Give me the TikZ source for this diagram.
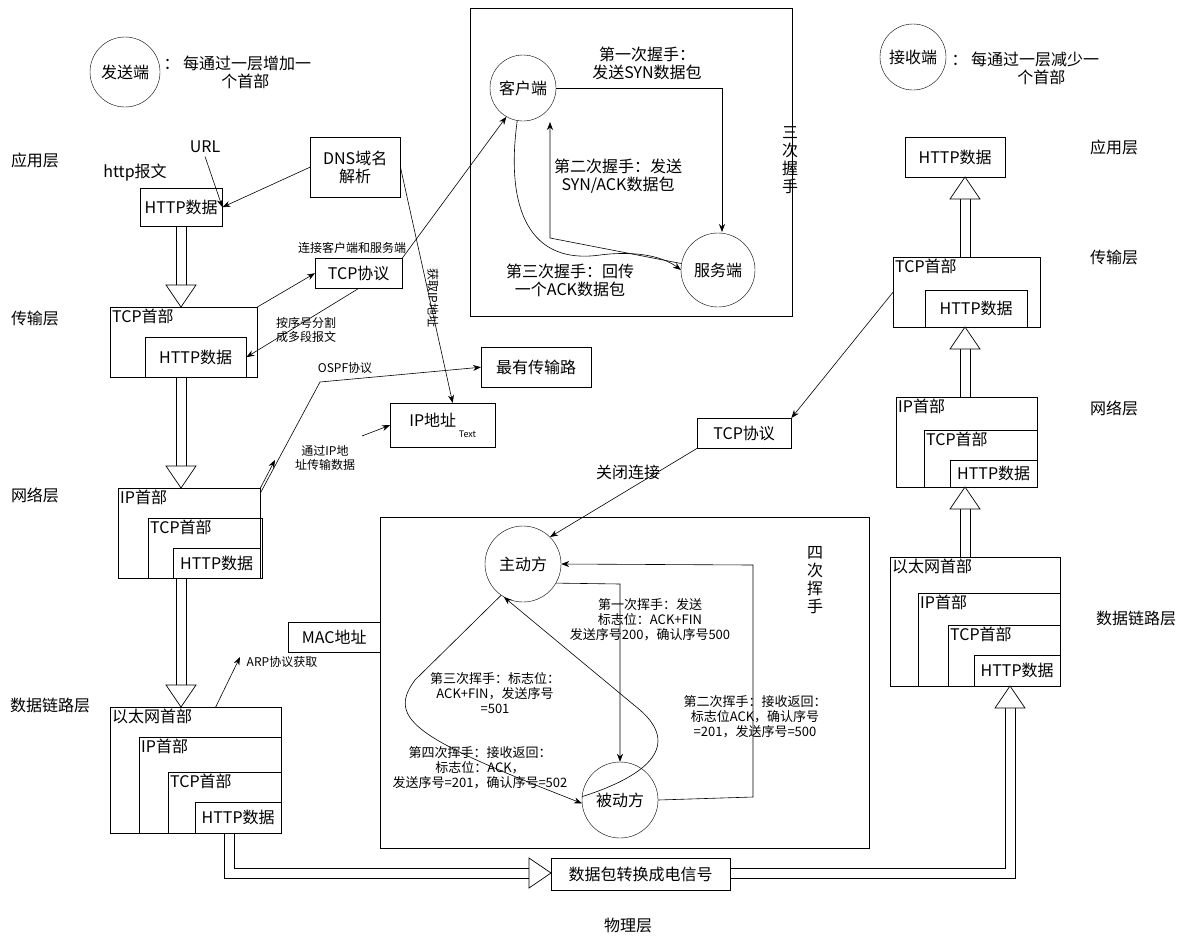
\documentclass[tikz,border=0pt]{standalone}
\usepackage{fontspec}
\setmainfont{Noto Sans CJK SC}
\usetikzlibrary{arrows.meta,positioning,calc}

\tikzset{
  box/.style={draw,rectangle,inner sep=2pt,font=\fontsize{16}{18}\selectfont},
  ring/.style={draw,circle,font=\fontsize{16}{18}\selectfont},
  txt/.style={font=\fontsize{16}{18}\selectfont,align=center},
  sml/.style={font=\fontsize{12}{14}\selectfont,align=center},
  wsml/.style={font=\fontsize{13}{15}\selectfont,align=center},
  arr/.style={-{Stealth[length=8pt,width=6pt]},line width=0.6pt},
  hl/.style={line width=0.7pt},
}
\newcommand\vhol[3]{\draw[hl] (#1-5,#2) -- (#1-5,#3) (#1+5,#2) -- (#1+5,#3);}
\newcommand\headdown[1]{\draw[fill=white,line width=0.7pt] ($(#1)+(-15,-22)$) -- (#1) -- ($(#1)+(15,-22)$) -- cycle;}
\newcommand\headup[1]{\draw[fill=white,line width=0.7pt] ($(#1)+(-15,22)$) -- (#1) -- ($(#1)+(15,22)$) -- cycle;}
\newcommand\headright[1]{\draw[fill=white,line width=0.7pt] ($(#1)+(-22,-15)$) -- (#1) -- ($(#1)+(-22,15)$) -- cycle;}

\begin{document}
\begin{tikzpicture}[x=1pt,y=-1pt]
\useasboundingbox (0,0) rectangle (1192,938);

% legend
\node[ring,minimum size=70] (snd) at (125,72) {发送端};
\node[txt,anchor=west] at (160,72) {：\ 每通过一层增加一\\\hspace{1em}个首部};
\node[ring,minimum size=66] (rcv) at (913,57) {接收端};
\node[txt,anchor=west] at (948,68) {：\ 每通过一层减少一\\\hspace{2em}个首部};

% layer names
\node[txt] at (35,160) {应用层};
\node[txt] at (35,318) {传输层};
\node[txt] at (35,495) {网络层};
\node[txt] at (50,705) {数据链路层};
\node[txt] at (1114,147) {应用层};
\node[txt] at (1114,257) {传输层};
\node[txt] at (1114,408) {网络层};
\node[txt] at (1136,618) {数据链路层};
\node[txt] at (628,925) {物理层};

% sender stack
\node[txt] (url) at (205,147) {URL};
\node[txt] at (135,173) {http报文};
\node[box,anchor=north west,minimum width=82,minimum height=38] (app) at (140,188) {HTTP数据};
\node[box,anchor=north west,minimum width=90,minimum height=60,align=center] (dns) at (310,137) {DNS域名\\解析};
\node[box,anchor=north west,minimum width=87,minimum height=30] (tcpl) at (315,258) {TCP协议};
\node[sml] at (352,248) {连接客户端和服务端};
\node[box,anchor=north west,minimum width=147,minimum height=70] (tr) at (110,307) {};
\node[txt,anchor=north west,inner sep=2pt] at (tr.north west) {TCP首部};
\node[box,anchor=north west,minimum width=101,minimum height=40] (trh) at (145,337) {HTTP数据};
\node[sml] at (306,330) {按序号分割\\成多段报文};
\node[box,anchor=north west,minimum width=110,minimum height=40] (best) at (481,347) {最有传输路};
\node[box,anchor=north west,minimum width=105,minimum height=44] (ip) at (390,403) {IP地址\,\raisebox{-1.2ex}{\fontsize{9}{10}\selectfont Text}};
\node[sml] at (325,458) {通过IP地\\址传输数据};
\node[sml] at (345,368) {OSPF协议};

\node[box,anchor=north west,minimum width=142,minimum height=90] (nw) at (118,488) {};
\node[txt,anchor=north west,inner sep=2pt] at (nw.north west) {IP首部};
\node[box,anchor=north west,minimum width=114,minimum height=60] (nwt) at (148,518) {};
\node[txt,anchor=north west,inner sep=2pt] at (nwt.north west) {TCP首部};
\node[box,anchor=north west,minimum width=87,minimum height=30] (nwh) at (173,548) {HTTP数据};

\node[box,anchor=north west,minimum width=92,minimum height=30] (mac) at (288,622) {MAC地址};
\node[sml] at (282,662) {ARP协议获取};

\node[box,anchor=north west,minimum width=171,minimum height=126] (dl) at (110,707) {};
\node[txt,anchor=north west,inner sep=2pt] at (dl.north west) {以太网首部};
\node[box,anchor=north west,minimum width=142,minimum height=96] (dli) at (139,737) {};
\node[txt,anchor=north west,inner sep=2pt] at (dli.north west) {IP首部};
\node[box,anchor=north west,minimum width=113,minimum height=61] (dlt) at (168,772) {};
\node[txt,anchor=north west,inner sep=2pt] at (dlt.north west) {TCP首部};
\node[box,anchor=north west,minimum width=86,minimum height=31] (dlh) at (195,802) {HTTP数据};

\node[box,anchor=north west,minimum width=179,minimum height=32] (phy) at (551,858) {数据包转换成电信号};

% three-way handshake
\node[draw,anchor=north west,minimum width=322,minimum height=308] (hs) at (470,8) {};
\node[ring,minimum size=66] (cli) at (523,88) {客户端};
\node[ring,minimum size=74] (srv) at (718,270) {服务端};
\node[txt] at (790,160) {三\\次\\握\\手};
\node[txt] at (647,63) {第一次握手：\\发送SYN数据包};
\node[txt,fill=white,inner sep=1pt] (l2) at (618,176) {第二次握手：发送\\SYN/ACK数据包};
\node[txt] at (570,280) {第三次握手：回传\\一个ACK数据包};
\draw[arr] (cli.east) -- (722,88) -- (722,232);
\draw[arr] (srv.170) -- (550,238) -- (550,122);
\draw[arr] (cli.260) .. controls (505,210) and (530,265) .. (600,255) .. controls (640,250) and (665,258) .. (681,270);

% receiver stack
\node[box,anchor=north west,minimum width=100,minimum height=40] (rapp) at (905,137) {HTTP数据};
\node[box,anchor=north west,minimum width=147,minimum height=70] (rtr) at (893,257) {};
\node[txt,anchor=north west,inner sep=2pt] at (rtr.north west) {TCP首部};
\node[box,anchor=north west,minimum width=102,minimum height=37] (rtrh) at (925,290) {HTTP数据};
\node[box,anchor=north west,minimum width=141,minimum height=90] (rnw) at (896,397) {};
\node[txt,anchor=north west,inner sep=2pt] at (rnw.north west) {IP首部};
\node[box,anchor=north west,minimum width=113,minimum height=57] (rnwt) at (924,430) {};
\node[txt,anchor=north west,inner sep=2pt] at (rnwt.north west) {TCP首部};
\node[box,anchor=north west,minimum width=87,minimum height=27] (rnwh) at (950,460) {HTTP数据};
\node[box,anchor=north west,minimum width=170,minimum height=129] (rdl) at (890,557) {};
\node[txt,anchor=north west,inner sep=2pt] at (rdl.north west) {以太网首部};
\node[box,anchor=north west,minimum width=142,minimum height=93] (rdli) at (918,593) {};
\node[txt,anchor=north west,inner sep=2pt] at (rdli.north west) {IP首部};
\node[box,anchor=north west,minimum width=112,minimum height=61] (rdlt) at (948,625) {};
\node[txt,anchor=north west,inner sep=2pt] at (rdlt.north west) {TCP首部};
\node[box,anchor=north west,minimum width=86,minimum height=31] (rdlh) at (974,655) {HTTP数据};

\node[box,anchor=north west,minimum width=94,minimum height=30] (tcpr) at (697,418) {TCP协议};
\node[txt] at (628,472) {关闭连接};

% four-way wave
\node[draw,anchor=north west,minimum width=489,minimum height=331] (wv) at (380,517) {};
\node[ring,minimum size=76] (act) at (523,564) {主动方};
\node[ring,minimum size=76] (pas) at (620,800) {被动方};
\node[txt] at (815,580) {四\\次\\挥\\手};
\draw[arr] (act.-30) -- (620,584) -- (pas.north);
\draw[arr] (pas.east) -- (753,797) -- (753,565) -- (act.east);
\draw[arr] (pas.175) .. controls (650,775) and (680,745) .. (640,710) -- (act.-120);
\draw[arr] (act.-125) -- (415,680) .. controls (385,720) and (420,740) .. (pas.185);
\node[wsml] at (650,620) {第一次挥手：发送\\标志位：ACK+FIN\\发送序号200，确认序号500};
\node[wsml] at (755,717) {第二次挥手：接收返回：\\标志位ACK，确认序号\\=201，发送序号=500};
\node[wsml] at (495,693) {第三次挥手：标志位：\\ACK+FIN，发送序号\\=501};
\node[wsml] at (480,768) {第四次挥手：接收返回：\\标志位：ACK，\\发送序号=201，确认序号=502};

% connectors
\draw[arr] (url.south) -- (app.east);
\draw[arr,{Stealth[length=8pt,width=6pt]}-] (app.east) -- (dns.west);
\draw[arr] (dns.north east) ++(0,30) -- ($(ip.north)+(10,0)$);
\node[sml,rotate=-90] at (433,298) {获取IP地址};
\draw[arr] (tr.north east) -- (tcpl.west);
\draw[arr] (tcpl.south) -- (trh.east);
\draw[arr] (tcpl.north east) -- (cli.240);
\draw[arr] (nw.north east) -- (275,460);
\draw[arr] (362,436) -- (ip.west);
\draw[arr] ($(nw.north east)+(0,5)$) -- (320,382) -- (best.west);
\draw[arr] (dl.north) ++(20,0) -- (240,657);
\draw (mac.east) -- (wv.west |- mac.east);
\draw[arr] (rtr.west) -- (tcpr.north east);
\draw[arr] (tcpr.south west) -- (act.45);

% hollow arrows
\vhol{181}{226}{286} \headdown{181,307}
\vhol{181}{377}{467} \headdown{181,488}
\vhol{181}{578}{686} \headdown{181,707}
\draw[hl] (224,833) -- (224,878) -- (530,878) (234,833) -- (234,868) -- (530,868);
\headright{551,873}
\draw[hl] (730,878) -- (1015,878) -- (1015,707) (730,868) -- (1005,868) -- (1005,707);
\headup{1010,686}
\vhol{965}{557}{508} \headup{965,487}
\vhol{965}{397}{348} \headup{965,327}
\vhol{965}{257}{198} \headup{965,177}
\end{tikzpicture}
\end{document}
